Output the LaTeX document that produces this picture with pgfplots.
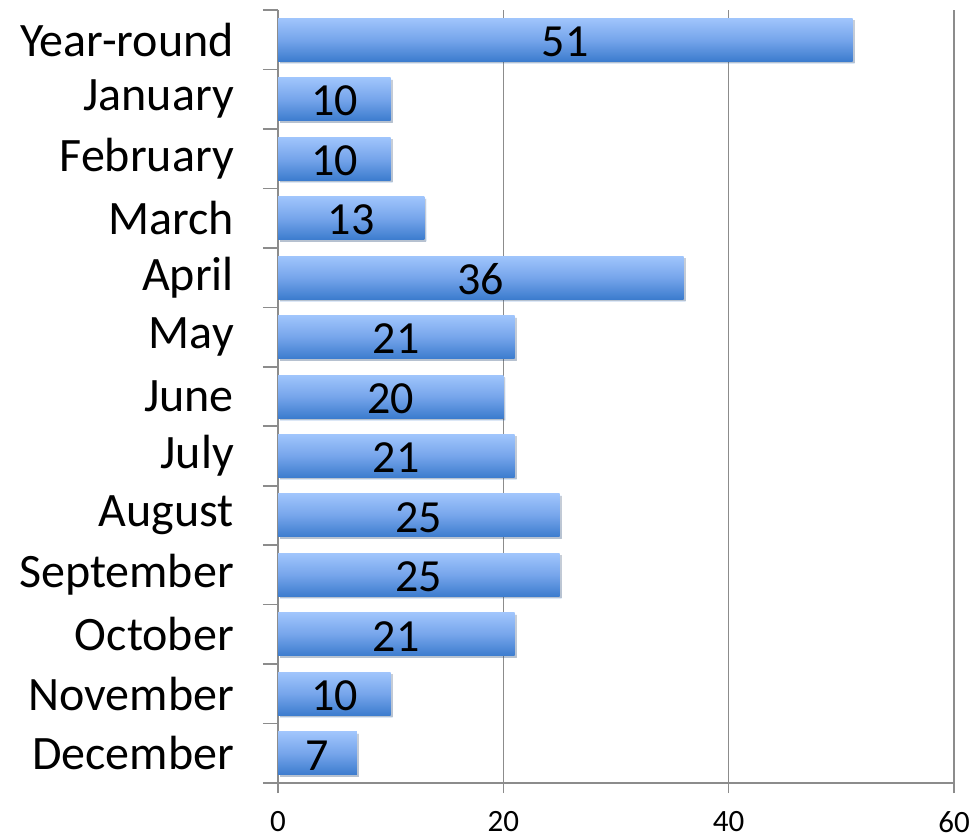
\documentclass[border=0pt]{standalone}
\usepackage{pgfplots}
\pgfplotsset{compat=1.18}
\usepackage{pgfplotstable}
\usetikzlibrary{shadows}
\usepackage{fontspec}
\setmainfont{Carlito}
\definecolor{bartop}{RGB}{160,197,252}
\definecolor{barmid}{RGB}{118,165,235}
\definecolor{barbot}{RGB}{60,124,206}
\definecolor{gridc}{RGB}{140,140,140}
\pgfplotstableread{
i v
0 51
1 10
2 10
3 13
4 36
5 21
6 20
7 21
8 25
9 25
10 21
11 10
12 7
}\data
\begin{document}
\begin{tikzpicture}
\useasboundingbox (0,0) rectangle (973pt,838pt);
\begin{axis}[
  at={(278pt,55pt)}, anchor=south west,
  scale only axis, width=676pt, height=773pt,
  xmin=0, xmax=60, ymin=-0.5, ymax=12.5, y dir=reverse,
  xtick={0,20,40,60},
  ytick={0,...,12},
  yticklabels={Year-round,January,February,March,April,May,June,July,August,September,October,November,December},
  minor ytick={-0.5,0.5,...,12.5},
  axis x line*=bottom, axis y line*=left,
  axis line style={-, gridc, line width=1.6pt},
  xmajorgrids,
  major grid style={gridc, line width=1.3pt},
  tick style={gridc, line width=1.6pt},
  major y tick style={draw=none},
  tick align=outside, tick pos=left,
  major tick length=10pt, minor tick length=15pt,
  /pgf/number format/assume math mode=true,
  xticklabel style={font=\fontsize{31}{31}\selectfont, anchor=north, inner sep=0pt, yshift=-18pt, text=black},
  yticklabel style={font=\fontsize{48}{52}\selectfont, anchor=east, inner sep=0pt, xshift=-34pt, text=black},
  barstyle/.style={xbar, bar width=43pt, draw=none, top color=bartop, bottom color=barbot, middle color=barmid, forget plot,
    drop shadow={shadow xshift=2pt, shadow yshift=-2pt, opacity=0.18, fill=black}},
  clip=false,
]
\addplot[barstyle] coordinates {(51,0)};
\addplot[barstyle] coordinates {(10,1)};
\addplot[barstyle] coordinates {(10,2)};
\addplot[barstyle] coordinates {(13,3)};
\addplot[barstyle] coordinates {(36,4)};
\addplot[barstyle] coordinates {(21,5)};
\addplot[barstyle] coordinates {(20,6)};
\addplot[barstyle] coordinates {(21,7)};
\addplot[barstyle] coordinates {(25,8)};
\addplot[barstyle] coordinates {(25,9)};
\addplot[barstyle] coordinates {(21,10)};
\addplot[barstyle] coordinates {(10,11)};
\addplot[barstyle] coordinates {(7,12)};
\addplot[draw=none, mark=none, nodes near coords, point meta=explicit symbolic,
  nodes near coords style={anchor=center, inner sep=0pt, font=\fontsize{46}{46}\selectfont, text=black, yshift=-2pt}]
  table[x expr=\thisrow{v}/2, y=i, meta=v]{\data};
\end{axis}
\end{tikzpicture}
\end{document}
